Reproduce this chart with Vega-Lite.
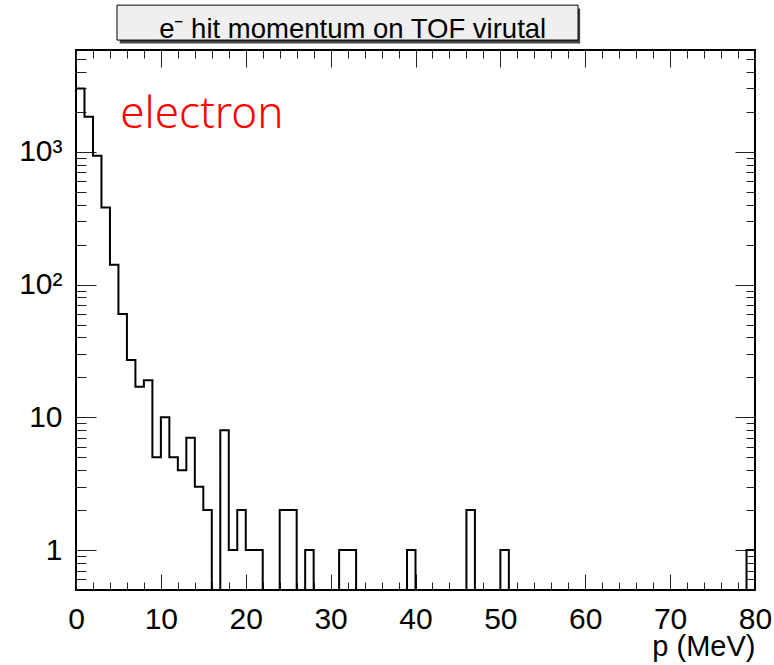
{
  "$schema": "https://vega.github.io/schema/vega-lite/v6.json",
  "width": 679,
  "height": 540,
  "autosize": {"type": "none"},
  "padding": {"left": 76, "top": 50, "right": 19, "bottom": 75},
  "background": "white",
  "config": {
    "view": {"stroke": "black", "strokeWidth": 2},
    "mark": {"invalid": null},
    "font": "Liberation Sans",
    "axis": {"domain": false, "grid": false, "tickColor": "#222", "tickWidth": 1, "labelFont": "Liberation Sans", "labelColor": "black", "titleFont": "Liberation Sans", "titleColor": "black"}
  },
  "data": {"values": [
    {"p": 0, "n": 3000}, {"p": 1, "n": 1840}, {"p": 2, "n": 935}, {"p": 3, "n": 381}, {"p": 4, "n": 141},
    {"p": 5, "n": 60}, {"p": 6, "n": 27}, {"p": 7, "n": 17}, {"p": 8, "n": 19}, {"p": 9, "n": 5},
    {"p": 10, "n": 10}, {"p": 11, "n": 5}, {"p": 12, "n": 4}, {"p": 13, "n": 7}, {"p": 14, "n": 3},
    {"p": 15, "n": 2}, {"p": 16, "n": 0}, {"p": 17, "n": 8}, {"p": 18, "n": 1}, {"p": 19, "n": 2},
    {"p": 20, "n": 1}, {"p": 21, "n": 1}, {"p": 22, "n": 0}, {"p": 23, "n": 0}, {"p": 24, "n": 2},
    {"p": 25, "n": 2}, {"p": 26, "n": 0}, {"p": 27, "n": 1}, {"p": 28, "n": 0}, {"p": 29, "n": 0},
    {"p": 30, "n": 0}, {"p": 31, "n": 1}, {"p": 32, "n": 1}, {"p": 33, "n": 0}, {"p": 34, "n": 0},
    {"p": 35, "n": 0}, {"p": 36, "n": 0}, {"p": 37, "n": 0}, {"p": 38, "n": 0}, {"p": 39, "n": 1},
    {"p": 40, "n": 0}, {"p": 41, "n": 0}, {"p": 42, "n": 0}, {"p": 43, "n": 0}, {"p": 44, "n": 0},
    {"p": 45, "n": 0}, {"p": 46, "n": 2}, {"p": 47, "n": 0}, {"p": 48, "n": 0}, {"p": 49, "n": 0},
    {"p": 50, "n": 1}, {"p": 51, "n": 0}, {"p": 52, "n": 0}, {"p": 53, "n": 0}, {"p": 54, "n": 0},
    {"p": 55, "n": 0}, {"p": 56, "n": 0}, {"p": 57, "n": 0}, {"p": 58, "n": 0}, {"p": 59, "n": 0},
    {"p": 60, "n": 0}, {"p": 61, "n": 0}, {"p": 62, "n": 0}, {"p": 63, "n": 0}, {"p": 64, "n": 0},
    {"p": 65, "n": 0}, {"p": 66, "n": 0}, {"p": 67, "n": 0}, {"p": 68, "n": 0}, {"p": 69, "n": 0},
    {"p": 70, "n": 0}, {"p": 71, "n": 0}, {"p": 72, "n": 0}, {"p": 73, "n": 0}, {"p": 74, "n": 0},
    {"p": 75, "n": 0}, {"p": 76, "n": 0}, {"p": 77, "n": 0}, {"p": 78, "n": 0}, {"p": 79, "n": 1},
    {"p": 80, "n": 0}
  ]},
  "layer": [
    {
      "data": {"values": [{}]},
      "mark": {"type": "rect", "fill": "#444", "clip": false},
      "encoding": {
        "x": {"datum": 5.15, "type": "quantitative", "axis": null},
        "x2": {"datum": 59.4},
        "y": {"datum": 12000, "type": "quantitative", "axis": null, "scale": {"type": "log", "domain": [0.5, 5850], "nice": false}},
        "y2": {"datum": 6550}
      }
    },
    {
      "data": {"values": [{}]},
      "mark": {"type": "rect", "fill": "#efefef", "stroke": "black", "strokeWidth": 1, "clip": false},
      "encoding": {
        "x": {"datum": 4.83, "type": "quantitative", "axis": null},
        "x2": {"datum": 59.15},
        "y": {"datum": 12740, "type": "quantitative", "axis": null, "scale": {"type": "log", "domain": [0.5, 5850], "nice": false}},
        "y2": {"datum": 6950}
      }
    },
    {
      "data": {"values": [{}]},
      "mark": {"type": "text", "text": "e⁻ hit momentum on TOF virutal", "font": "Liberation Sans", "fontSize": 27.5, "fontWeight": "normal", "align": "center", "baseline": "alphabetic", "fill": "black", "clip": false},
      "encoding": {
        "x": {"datum": 32.6, "type": "quantitative", "axis": null},
        "y": {"datum": 7160, "type": "quantitative", "axis": null, "scale": {"type": "log", "domain": [0.5, 5850], "nice": false}}
      }
    },
    {
      "mark": {"type": "line", "interpolate": "step-after", "color": "black", "strokeWidth": 2},
      "encoding": {
        "x": {"field": "p", "type": "quantitative",
              "scale": {"domain": [0, 80], "nice": false, "zero": false},
              "axis": {"orient": "bottom", "values": [0, 10, 20, 30, 40, 50, 60, 70, 80], "ticks": false, "labelPadding": 14, "labelFontSize": 30, "labelFlush": false,
                       "title": "p (MeV)", "titleFontSize": 29, "titleFontWeight": "normal", "titleX": 679, "titleY": 65, "titleAlign": "right", "titleBaseline": "alphabetic", "titleAnchor": "end"}},
        "y": {"field": "n", "type": "quantitative",
              "scale": {"type": "log", "domain": [0.5, 5850], "nice": false, "clamp": true},
              "axis": {"orient": "left", "values": [1, 10, 100, 1000], "ticks": false, "labelPadding": 14, "labelFontSize": 30, "labelFlush": false, "title": null,
                       "labelExpr": "datum.value == 1 ? '1' : datum.value == 10 ? '10' : datum.value == 100 ? '10²' : '10³'"}}
      }
    },
    {
      "mark": {"type": "point", "opacity": 0},
      "encoding": {
        "x": {"field": "p", "type": "quantitative", "axis": {"orient": "bottom", "values": [0,2,4,6,8,10,12,14,16,18,20,22,24,26,28,30,32,34,36,38,40,42,44,46,48,50,52,54,56,58,60,62,64,66,68,70,72,74,76,78,80], "labels": false, "tickSize": -8, "title": null}},
        "y": {"field": "n", "type": "quantitative", "scale": {"type": "log", "domain": [0.5, 5850], "nice": false, "clamp": true}, "axis": {"orient": "left", "values": [0.6,0.7,0.8,0.9,2,3,4,5,6,7,8,9,20,30,40,50,60,70,80,90,200,300,400,500,600,700,800,900,2000,3000,4000,5000], "labels": false, "tickSize": -10, "title": null}}
      }
    },
    {
      "mark": {"type": "point", "opacity": 0},
      "encoding": {
        "x": {"field": "p", "type": "quantitative", "axis": {"orient": "bottom", "values": [0,10,20,30,40,50,60,70,80], "labels": false, "tickSize": -16, "title": null}},
        "y": {"field": "n", "type": "quantitative", "scale": {"type": "log", "domain": [0.5, 5850], "nice": false, "clamp": true}, "axis": {"orient": "left", "values": [1,10,100,1000], "labels": false, "tickSize": -20, "title": null}}
      }
    },
    {
      "mark": {"type": "point", "opacity": 0},
      "encoding": {
        "x": {"field": "p", "type": "quantitative", "axis": {"orient": "top", "values": [0,2,4,6,8,10,12,14,16,18,20,22,24,26,28,30,32,34,36,38,40,42,44,46,48,50,52,54,56,58,60,62,64,66,68,70,72,74,76,78,80], "labels": false, "tickSize": -8, "title": null}},
        "y": {"field": "n", "type": "quantitative", "scale": {"type": "log", "domain": [0.5, 5850], "nice": false, "clamp": true}, "axis": {"orient": "right", "values": [0.6,0.7,0.8,0.9,2,3,4,5,6,7,8,9,20,30,40,50,60,70,80,90,200,300,400,500,600,700,800,900,2000,3000,4000,5000], "labels": false, "tickSize": -9, "title": null}}
      }
    },
    {
      "mark": {"type": "point", "opacity": 0},
      "encoding": {
        "x": {"field": "p", "type": "quantitative", "axis": {"orient": "top", "values": [0,10,20,30,40,50,60,70,80], "labels": false, "tickSize": -17, "title": null}},
        "y": {"field": "n", "type": "quantitative", "scale": {"type": "log", "domain": [0.5, 5850], "nice": false, "clamp": true}, "axis": {"orient": "right", "values": [1,10,100,1000], "labels": false, "tickSize": -20, "title": null}}
      }
    },
    {
      "data": {"values": [{}]},
      "mark": {"type": "text", "text": "electron", "font": "Noto Sans", "fontSize": 44, "fontWeight": 300, "align": "left", "baseline": "alphabetic", "fill": "#ff0000"},
      "encoding": {
        "x": {"datum": 5.2, "type": "quantitative", "axis": null},
        "y": {"datum": 1510, "type": "quantitative", "axis": null, "scale": {"type": "log", "domain": [0.5, 5850], "nice": false}}
      }
    }
  ],
  "resolve": {"scale": {"y": "independent"}, "axis": {"x": "independent", "y": "independent"}}
}
